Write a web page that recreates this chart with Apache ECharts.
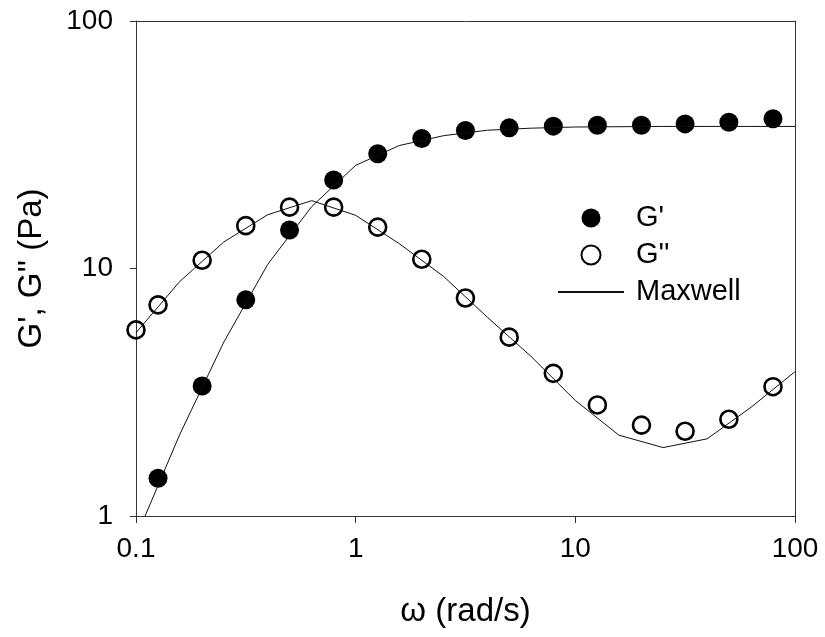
<!DOCTYPE html>
<html>
<head>
<meta charset="utf-8">
<script src="https://cdn.jsdelivr.net/npm/echarts@6/dist/echarts.min.js"></script>
<style>
  html, body { margin: 0; padding: 0; background: #fff; }
  #chart { width: 825px; height: 637px; }
</style>
</head>
<body>
<div id="chart"></div>
<script>
// Measured data
var omegaGpp = [0.1, 0.126, 0.2, 0.316, 0.5, 0.794, 1.26, 2, 3.16, 5, 7.94, 12.6, 20, 31.6, 50, 79.4];
var gDoublePrime = [5.65, 7.13, 10.8, 14.9, 17.7, 17.7, 14.7, 10.9, 7.6, 5.28, 3.77, 2.81, 2.33, 2.20, 2.46, 3.33];
var omegaGp = [0.126, 0.2, 0.316, 0.5, 0.794, 1.26, 2, 3.16, 5, 7.94, 12.6, 20, 31.6, 50, 79.4];
var gPrime = [1.42, 3.35, 7.47, 14.3, 22.8, 29.1, 33.5, 36.1, 37.0, 37.6, 37.9, 37.9, 38.4, 39.0, 40.3];

// Maxwell fit curves
var omegaFit = [0.1, 0.158, 0.251, 0.398, 0.631, 1, 1.58, 2.51, 3.98, 6.31, 10, 15.8, 25.1, 39.8, 63.1, 100];
var fitGPrime = [0.82, 2.13, 5.04, 10.4, 17.8, 26.1, 31.4, 34.4, 36.2, 36.9, 37.3, 37.4, 37.5, 37.5, 37.5, 37.5];
var fitGDoublePrime = [5.5, 8.85, 12.8, 16.5, 18.8, 16.4, 12.6, 9.3, 6.35, 4.4, 2.93, 2.12, 1.89, 2.05, 2.75, 3.83];

var xTickLabels = ['0.1', '1', '10', '100'];
var yTickLabels = ['1', '10', '100'];

function pairs(xs, ys) { return xs.map(function (x, i) { return [x, ys[i]]; }); }

var FONT = 'Liberation Sans, Arial, sans-serif';
var AX = '#333';

var chart = echarts.init(document.getElementById('chart'), null, { renderer: 'canvas' });
chart.setOption({
  animation: false,
  backgroundColor: '#fff',
  grid: { left: 136, right: 30, top: 21, bottom: 121, containLabel: false, outerBoundsMode: 'none' },
  legend: {
    orient: 'vertical',
    left: 552,
    top: 198,
    itemWidth: 66,
    itemHeight: 19,
    itemGap: 7,
    data: [
      { name: "G'" },
      { name: "G''" },
      { name: 'Maxwell', itemStyle: { opacity: 0, borderWidth: 0 } }
    ],
    textStyle: { fontFamily: FONT, fontSize: 29, lineHeight: 30, color: '#000', padding: [0, 0, 0, 7] },
    selectedMode: false
  },
  xAxis: [{
    type: 'log', logBase: 10, min: 0.1, max: 100,
    name: 'ω (rad/s)', nameLocation: 'middle', nameGap: 79,
    nameTextStyle: { fontFamily: FONT, fontSize: 33, color: '#000' },
    axisLine: { show: true, onZero: false, lineStyle: { color: AX, width: 1 } },
    axisTick: { show: true, inside: false, length: 7, lineStyle: { color: AX } },
    minorTick: { show: false },
    splitLine: { show: false },
    axisLabel: {
      fontFamily: FONT, fontSize: 28, color: '#000', margin: 19,
      formatter: function (v) {
        var e = Math.round(Math.log10(v));
        return xTickLabels[e + 1];
      }
    }
  }, {
    type: 'log', logBase: 10, min: 0.1, max: 100, position: 'top',
    axisLine: { show: true, onZero: false, lineStyle: { color: AX, width: 1 } },
    axisTick: { show: false }, axisLabel: { show: false }, splitLine: { show: false }
  }],
  yAxis: [{
    type: 'log', logBase: 10, min: 1, max: 100,
    name: "G', G'' (Pa)", nameLocation: 'middle', nameGap: 88,
    nameTextStyle: { fontFamily: FONT, fontSize: 33, color: '#000' },
    axisLine: { show: true, onZero: false, lineStyle: { color: AX, width: 1 } },
    axisTick: { show: true, inside: false, length: 6, lineStyle: { color: AX } },
    splitLine: { show: false },
    axisLabel: {
      fontFamily: FONT, fontSize: 28, color: '#000', margin: 23,
      formatter: function (v) {
        var e = Math.round(Math.log10(v));
        return yTickLabels[e];
      }
    }
  }, {
    type: 'log', logBase: 10, min: 1, max: 100, position: 'right',
    axisLine: { show: true, onZero: false, lineStyle: { color: AX, width: 1 } },
    axisTick: { show: false }, axisLabel: { show: false }, splitLine: { show: false }
  }],
  series: [{
    name: "G'", type: 'scatter', symbol: 'circle', symbolSize: 19,
    itemStyle: { color: '#000', opacity: 1 },
    data: pairs(omegaGp, gPrime), z: 2
  }, {
    name: "G''", type: 'scatter', symbol: 'circle', symbolSize: 17,
    itemStyle: { color: 'rgba(255,255,255,0)', borderColor: '#000', borderWidth: 2.6, opacity: 1 },
    data: pairs(omegaGpp, gDoublePrime), z: 2
  }, {
    name: 'Maxwell', type: 'line', symbol: 'none', showSymbol: false, smooth: false, clip: true,
    lineStyle: { color: '#111', width: 1 },
    itemStyle: { color: '#111' },
    data: pairs(omegaFit, fitGPrime), z: 3
  }, {
    name: 'Maxwell', type: 'line', symbol: 'none', showSymbol: false, smooth: false, clip: true,
    lineStyle: { color: '#111', width: 1 },
    itemStyle: { color: '#111' },
    data: pairs(omegaFit, fitGDoublePrime), z: 3
  }]
});
</script>
</body>
</html>
